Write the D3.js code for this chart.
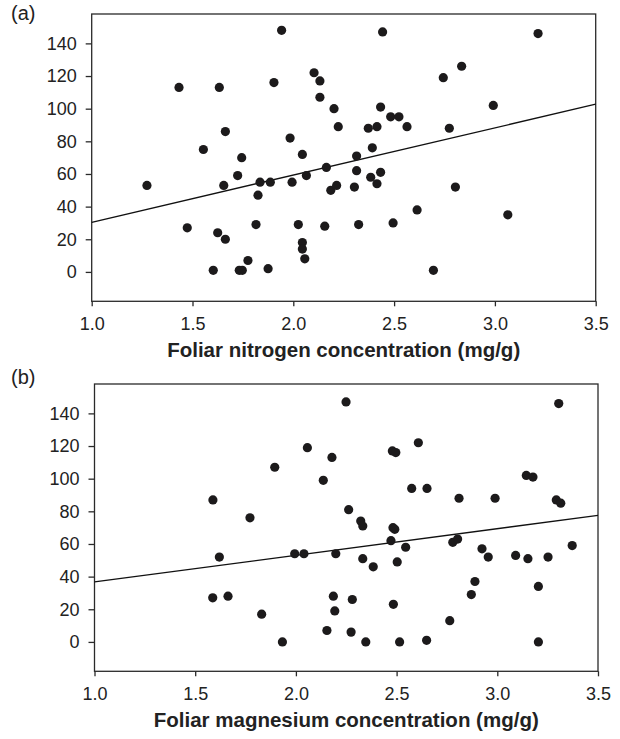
<!DOCTYPE html>
<html lang="en">
<head>
<meta charset="UTF-8">
<title>Foliar nutrients scatter</title>
<script src="https://cdn.jsdelivr.net/npm/d3@7"></script>
<style>
  html, body { margin: 0; padding: 0; background: #fff; }
  svg { display: block; font-family: "Liberation Sans", Arial, sans-serif; }
</style>
</head>
<body>
<div id="chart"></div>
<script>
// panel (a): foliar nitrogen
const nitrogenX = [1.942, 2.103, 2.132, 1.433, 1.633, 1.904, 2.132, 2.202, 2.223, 1.663,
  1.984, 1.554, 1.744, 2.045, 2.443, 3.214, 2.835, 2.744, 2.992, 2.433,
  2.483, 2.524, 2.372, 2.415, 2.564, 2.774, 2.392, 2.314, 2.164, 1.724,
  2.065, 1.274, 1.655, 1.835, 1.886, 1.994, 1.825, 2.186, 2.215, 1.474,
  1.625, 1.663, 1.815, 2.025, 2.156, 2.045, 2.045, 2.057, 1.775, 1.603,
  1.732, 1.747, 1.875, 2.314, 2.433, 2.384, 2.415, 2.303, 2.804, 2.614,
  3.064, 2.324, 2.495, 2.695];
const nitrogenY = [148, 122, 117, 113, 113, 116, 107, 100, 89, 86,
  82, 75, 70, 72, 147, 146, 126, 119, 102, 101,
  95, 95, 88, 89, 89, 88, 76, 71, 64, 59,
  59, 53, 53, 55, 55, 55, 47, 50, 53, 27,
  24, 20, 29, 29, 28, 18, 14, 8, 7, 1,
  1, 1, 2, 62, 61, 58, 54, 52, 52, 38,
  35, 29, 30, 1];

// panel (b): foliar magnesium
const magnesiumX = [2.249, 2.057, 2.179, 1.895, 2.136, 1.588, 2.262, 1.772, 3.305, 2.608,
  2.479, 2.496, 3.144, 3.177, 2.575, 2.651, 2.810, 2.989, 3.293, 3.315,
  2.322, 2.332, 2.482, 2.491, 1.620, 1.994, 2.040, 2.198, 1.587, 1.663,
  1.830, 1.933, 2.186, 2.193, 2.154, 2.280, 2.274, 2.472, 2.545, 2.332,
  2.384, 2.503, 2.779, 2.803, 2.924, 2.955, 3.091, 3.152, 3.252, 3.372,
  2.889, 2.871, 3.204, 2.484, 2.764, 2.347, 2.515, 2.649, 3.204];
const magnesiumY = [147, 119, 113, 107, 99, 87, 81, 76, 146, 122,
  117, 116, 102, 101, 94, 94, 88, 88, 87, 85,
  74, 71, 70, 69, 52, 54, 54, 54, 27, 28,
  17, 0, 28, 19, 7, 26, 6, 62, 58, 51,
  46, 49, 61, 63, 57, 52, 53, 51, 52, 59,
  37, 29, 34, 23, 13, 0, 0, 1, 0];

// fitted lines [intercept, slope]
const nitrogenFit = [1.5, 28.92];
const magnesiumFit = [20.4, 16.32];

const xTicks = [1.0, 1.5, 2.0, 2.5, 3.0, 3.5];
const yTicks = [0, 20, 40, 60, 80, 100, 120, 140];

const width = 620;
const height = 739;

const svg = d3.select("#chart").append("svg")
    .attr("width", width)
    .attr("height", height);

function drawPanel(opts) {
  const x = d3.scaleLinear().domain([1.0, 3.5]).range([opts.left, opts.right]);
  const y = d3.scaleLinear().domain([-18, 158]).range([opts.bottom, opts.top]);

  const g = svg.append("g");

  // frame
  g.append("rect")
      .attr("x", opts.left)
      .attr("y", opts.top)
      .attr("width", opts.right - opts.left)
      .attr("height", opts.bottom - opts.top)
      .attr("fill", "none")
      .attr("stroke", "#2a2a2a")
      .attr("stroke-width", 1.3);

  const xAxis = g.append("g")
      .attr("transform", `translate(0,${opts.bottom})`)
      .call(d3.axisBottom(x).tickValues(xTicks).tickFormat(d3.format(".1f"))
        .tickSize(5).tickPadding(11));
  xAxis.select(".domain").remove();

  const yAxis = g.append("g")
      .attr("transform", `translate(${opts.left},0)`)
      .call(d3.axisLeft(y).tickValues(yTicks).tickSize(6).tickPadding(9));
  yAxis.select(".domain").remove();

  g.selectAll(".tick line").attr("stroke", "#2a2a2a").attr("stroke-width", 1.3);
  g.selectAll(".tick text")
      .attr("font-family", "'Liberation Sans', Arial, sans-serif")
      .attr("font-size", 18)
      .attr("fill", "#222");

  // regression line
  const fit = opts.fit;
  g.append("line")
      .attr("x1", x(1.0))
      .attr("y1", y(fit[0] + fit[1] * 1.0))
      .attr("x2", x(3.5))
      .attr("y2", y(fit[0] + fit[1] * 3.5))
      .attr("stroke", "#111")
      .attr("stroke-width", 1.3);

  g.selectAll("circle")
    .data(d3.zip(opts.xs, opts.ys))
    .join("circle")
      .attr("cx", d => x(d[0]))
      .attr("cy", d => y(d[1]))
      .attr("r", 4.6)
      .attr("fill", "#1c1a1b");

  g.append("text")
      .attr("x", (opts.left + opts.right) / 2)
      .attr("y", opts.bottom + 56)
      .attr("text-anchor", "middle")
      .attr("font-size", 20.5)
      .attr("font-weight", "bold")
      .attr("fill", "#222")
      .text(opts.title);

  g.append("text")
      .attr("x", 11)
      .attr("y", opts.top + opts.labelShift)
      .attr("font-size", 20)
      .attr("fill", "#222")
      .text(opts.label);
}

drawPanel({
  left: 91.7, right: 595.7, top: 14, bottom: 301.3,
  xs: nitrogenX, ys: nitrogenY, fit: nitrogenFit,
  title: "Foliar nitrogen concentration (mg/g)", label: "(a)", labelShift: 6
});

drawPanel({
  left: 94.5, right: 598, top: 384, bottom: 671.3,
  xs: magnesiumX, ys: magnesiumY, fit: magnesiumFit,
  title: "Foliar magnesium concentration (mg/g)", label: "(b)", labelShift: 0
});
</script>
</body>
</html>
